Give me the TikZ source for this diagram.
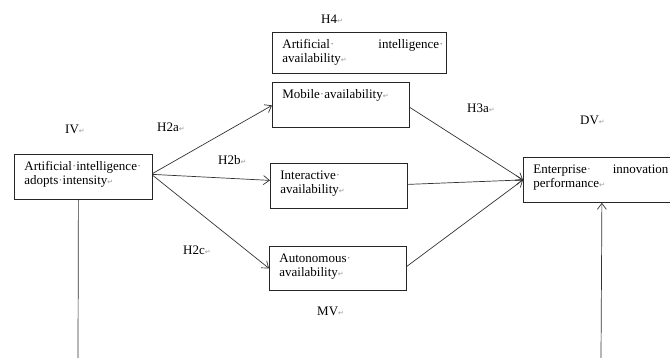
\documentclass[tikz,border=0pt]{standalone}
\usepackage{fontspec}
\setmainfont{Liberation Serif}
\newfontfamily\symfont{DejaVu Sans}
\usetikzlibrary{arrows.meta}
\newcommand{\rt}{{\symfont\color{black!40}\fontsize{7}{7}\selectfont ↵}}
\newcommand{\md}{{\color{black!45}·}}
\newcommand{\btext}[3]{\parbox[c][#2][t]{#1}{\leftskip=10pt\rightskip=3pt\rule{0pt}{16pt}#3}}
\begin{document}
\begin{tikzpicture}[x=1pt,y=-1pt,
  every node/.style={font=\fontsize{13}{14.5}\selectfont},
  bx/.style={draw=black!85, line width=0.8pt, anchor=north west, inner sep=0pt},
  lbl/.style={anchor=base west, inner sep=0pt},
  arr/.style={draw=black!80, line width=0.7pt, -{Straight Barb[length=6pt,width=9pt,line width=0.7pt]}},
  ln/.style={draw=black!80, line width=0.7pt}]
\useasboundingbox (0,0) rectangle (670,358);

% boxes
\node[bx] (A) at (272,32) {\btext{174pt}{41pt}{Artificial\md\hfill intelligence\md\\availability\rt}};
\node[bx] (M) at (272,82) {\btext{137pt}{45pt}{Mobile\md availability\rt}};
\node[bx] (I) at (270,163) {\btext{137pt}{45pt}{Interactive\md\\availability\rt}};
\node[bx] (U) at (269,246) {\btext{137pt}{44pt}{Autonomous\md\\availability\rt}};
\node[bx] (L) at (14,154) {\btext{138pt}{45pt}{Artificial\md intelligence\md\\adopts\md intensity\rt}};
\node[bx] (E) at (523,157) {\parbox[c][45pt][t]{150pt}{\leftskip=10pt\rightskip=5pt\rule{0pt}{16pt}Enterprise\md\hfill innovation\\performance\rt}};

% labels
\node[lbl] (h4) at (321,24) {H4\rt};
\node[lbl] (iv) at (65,134) {IV\rt};
\node[lbl] (h2a) at (157,132) {H2a\rt};
\node[lbl] (h2b) at (218,165) {H2b\rt};
\node[lbl] (h2c) at (183,255) {H2c\rt};
\node[lbl] (h3a) at (467,113) {H3a\rt};
\node[lbl] (dv) at (580,125) {DV\rt};
\node[lbl] (mv) at (317,316) {MV\rt};

% free ends at the bottom edge
\coordinate (lb) at (78,358);
\coordinate (rb) at (601,358);

% connectors
\draw[arr] ([yshift=3.5pt]L.east) -- ([yshift=-0.5pt]M.west);
\draw[arr] ([yshift=2.5pt]L.east) -- ([yshift=5.5pt]I.west);
\draw[arr] ([yshift=1.5pt]L.east) -- (U.west);
\draw[arr] ([yshift=-2.5pt]M.east) -- (E.west);
\draw[arr] ([yshift=1.5pt]I.east) -- (E.west);
\draw[arr] ([yshift=2pt]U.east) -- (E.west);
\draw[ln] ([xshift=-5pt]L.south) -- (lb);
\draw[arr] (rb) -- ([xshift=3.5pt]E.south);
\end{tikzpicture}
\end{document}
